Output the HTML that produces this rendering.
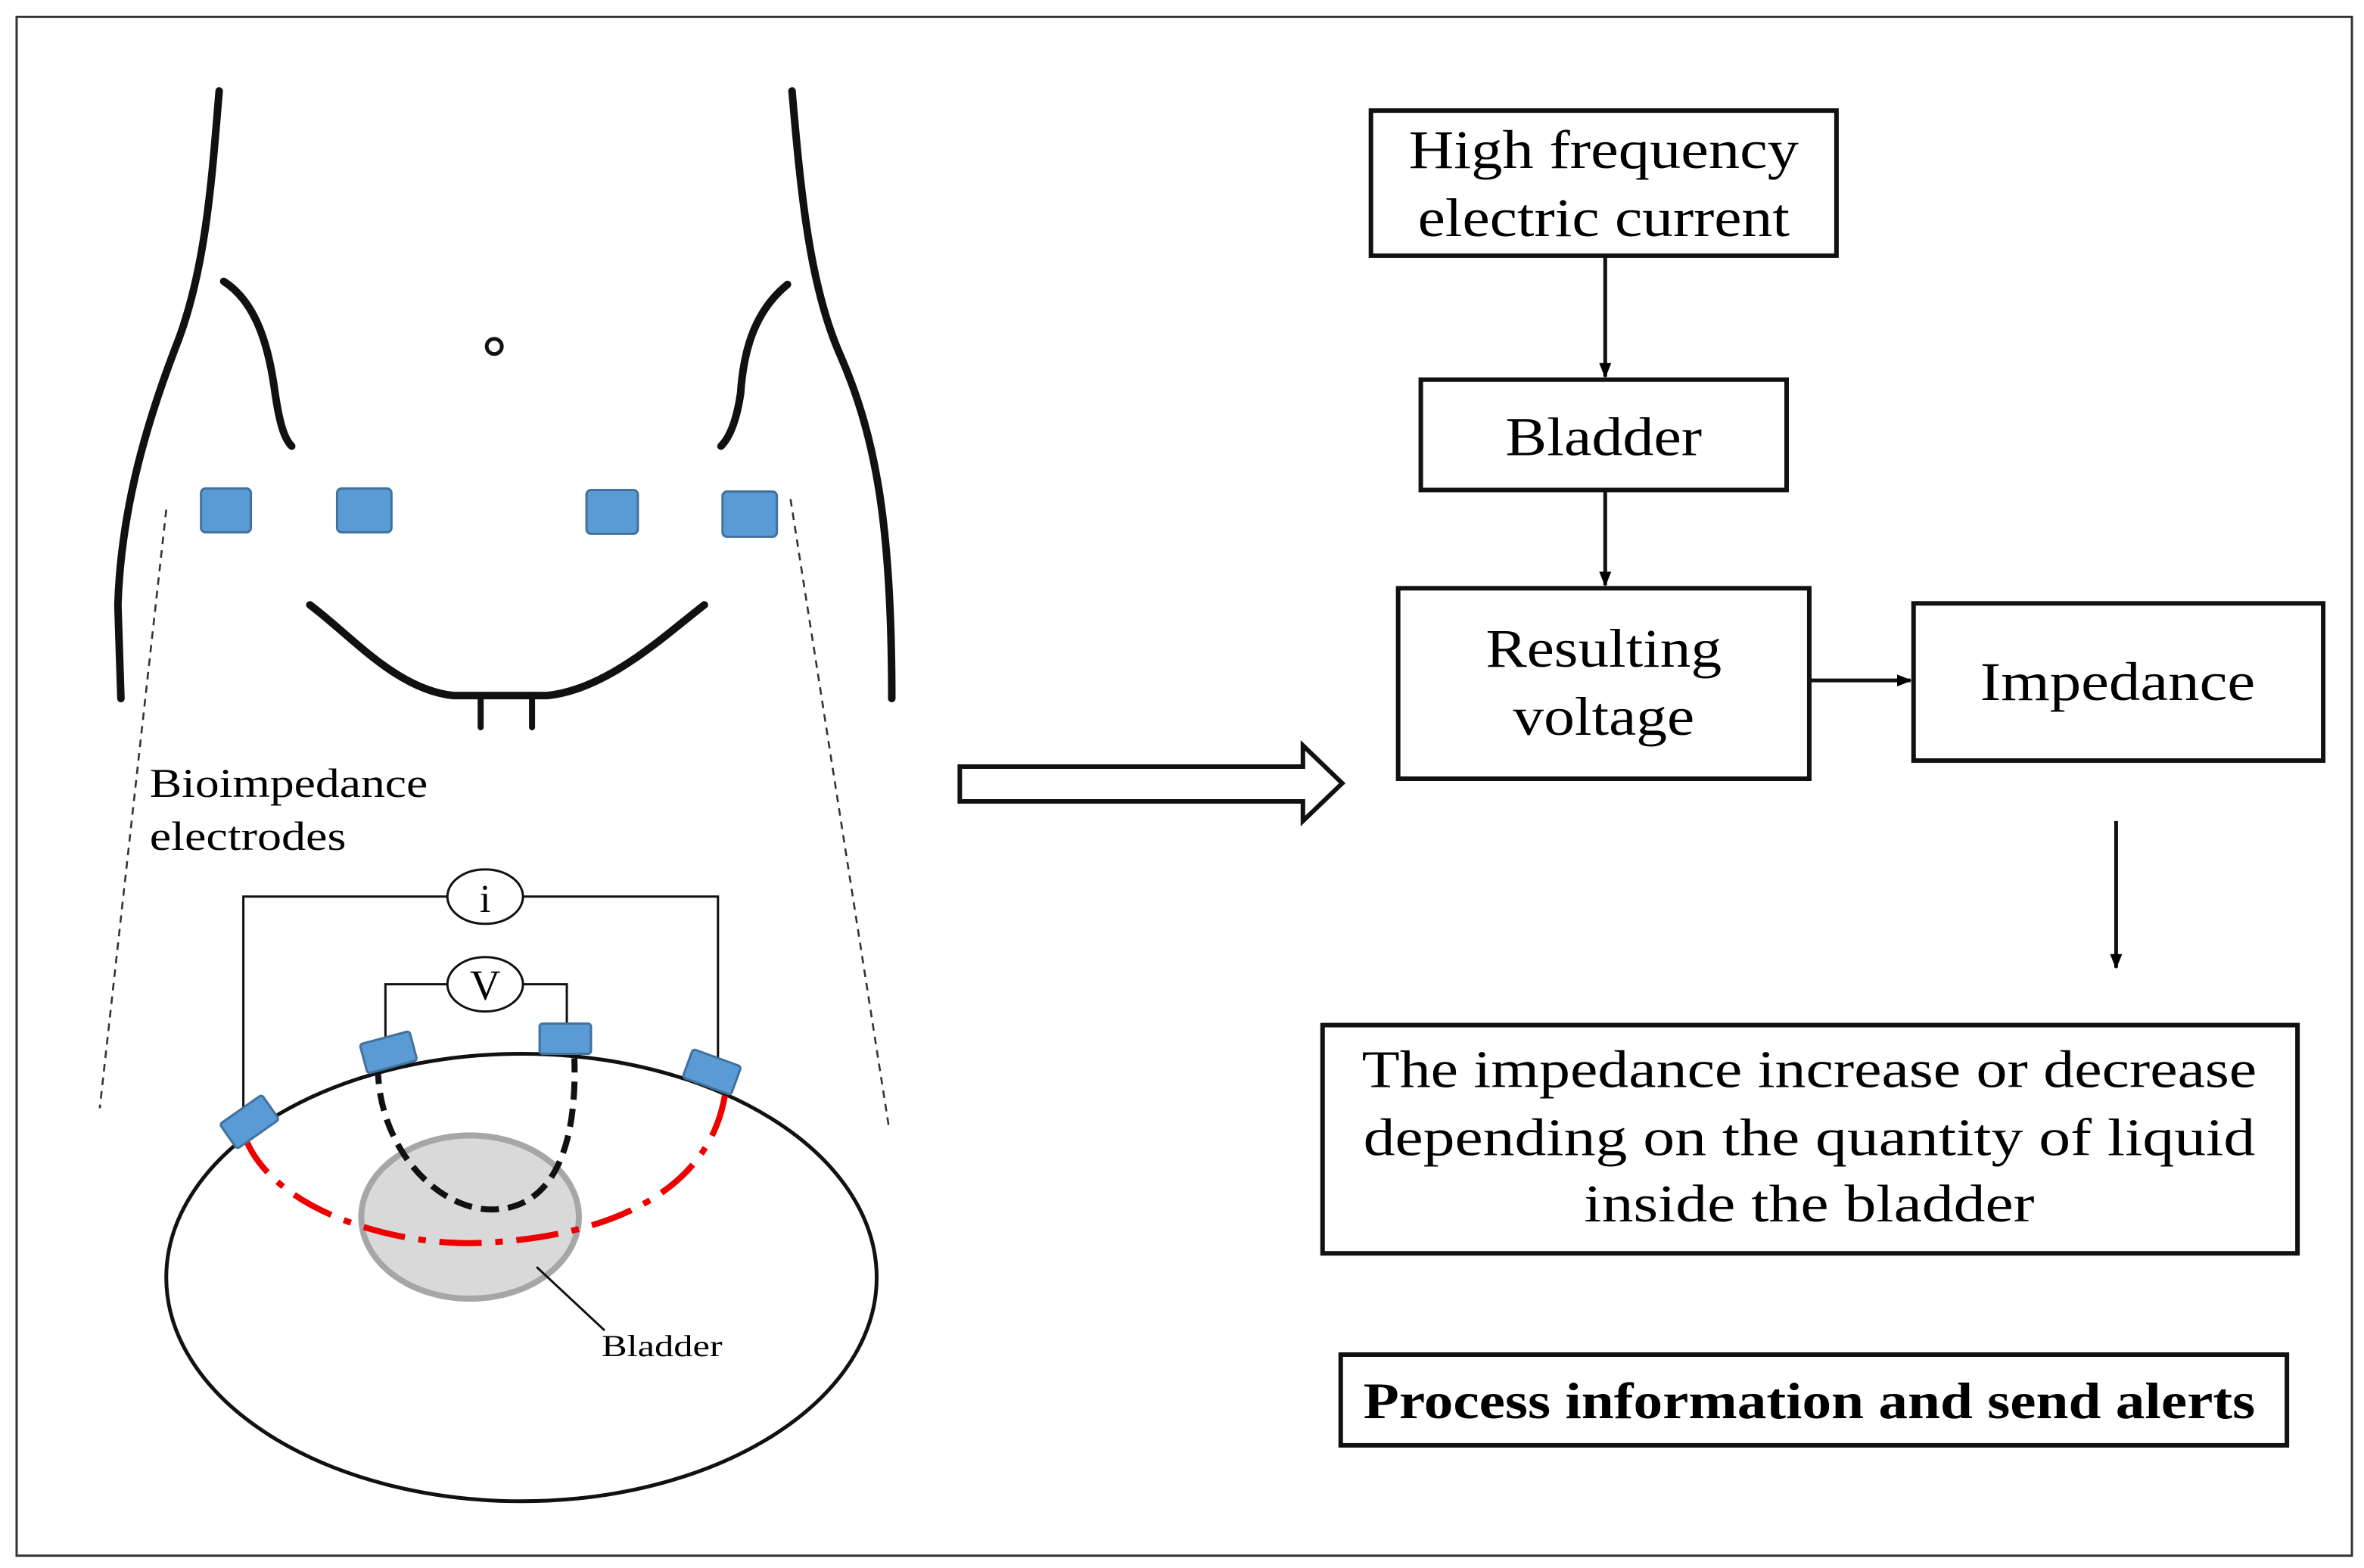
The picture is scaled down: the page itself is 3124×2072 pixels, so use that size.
<!DOCTYPE html>
<html><head><meta charset="utf-8"><style>html,body{margin:0;padding:0;background:#fff}svg{display:block}</style></head>
<body>
<svg width="3124" height="2072" viewBox="0 0 1564 1037" xmlns="http://www.w3.org/2000/svg" font-family="Liberation Serif, serif">
<defs><marker id="ah" markerWidth="10" markerHeight="10" refX="9" refY="5" orient="auto" markerUnits="userSpaceOnUse"><path d="M0,1 L10,5 L0,9 Z" fill="#000"/></marker></defs>
<rect width="1564" height="1037" fill="#fff"/>
<rect x="11" y="11" width="1545" height="1018" fill="none" stroke="#333" stroke-width="1.5"/>
<g fill="none" stroke="#111" stroke-width="5" stroke-linecap="round">
<path d="M145,60 C140,120 136,180 116,230 C95,285 80,340 78,400 L80,462"/>
<path d="M524,60 C530,130 536,190 556,235 C580,290 590,350 590,462"/>
<path d="M148,186 C170,200 178,230 182,260 C185,280 188,290 193,295"/>
<path d="M521,188 C500,205 492,230 490,260 C487,280 482,290 477,295"/>
<path d="M205,400 C232,420 262,456 300,460 L362,460 C402,456 440,420 466,400"/>
<path d="M318,461 L318,481 M352,461 L352,481" stroke-width="4"/>
</g>
<circle cx="327" cy="229" r="5" fill="none" stroke="#111" stroke-width="2.5"/>
<g fill="#5b9bd5" stroke="#41719c" stroke-width="1.5">
<rect x="133" y="323" width="33" height="29" rx="3"/>
<rect x="223" y="323" width="36" height="29" rx="3"/>
<rect x="388" y="324" width="34" height="29" rx="3"/>
<rect x="478" y="325" width="36" height="30" rx="3"/>
</g>
<g stroke="#333" stroke-width="1.3" stroke-dasharray="5,4">
<line x1="110" y1="337" x2="66" y2="733"/>
<line x1="523" y1="330" x2="588" y2="745"/>
</g>
<text x="99" y="527" font-size="27" textLength="184" lengthAdjust="spacingAndGlyphs">Bioimpedance</text>
<text x="99" y="562" font-size="27" textLength="130" lengthAdjust="spacingAndGlyphs">electrodes</text>
<ellipse cx="345" cy="845" rx="235" ry="148" fill="#fff" stroke="#111" stroke-width="2.5"/>
<ellipse cx="311" cy="805" rx="72" ry="54" fill="#d9d9d9" stroke="#a6a6a6" stroke-width="4"/>
<g fill="none" stroke="#111" stroke-width="1.5">
<path d="M161,738 L161,593 L475,593 L475,705"/>
<path d="M255,692 L255,651 L375,651 L375,682"/>
<line x1="355" y1="838" x2="400" y2="880"/>
</g>
<ellipse cx="321" cy="593" rx="25" ry="18" fill="#fff" stroke="#111" stroke-width="1.5"/>
<ellipse cx="321" cy="651" rx="25" ry="18" fill="#fff" stroke="#111" stroke-width="1.5"/>
<text x="321" y="603" font-size="26" text-anchor="middle">i</text>
<text x="321" y="661" font-size="28" text-anchor="middle">V</text>
<path d="M162,752 C180,800 260,825 320,822 C400,818 470,790 480,722" fill="none" stroke="#e00" stroke-width="4" stroke-dasharray="28,9,5,9"/>
<path d="M250,705 C250,760 290,800 325,800 C365,800 382,760 380,700" fill="none" stroke="#111" stroke-width="4" stroke-dasharray="12,6"/>
<g fill="#5b9bd5" stroke="#41719c" stroke-width="1.5">
<rect x="148" y="732" width="34" height="20" rx="2" transform="rotate(-35 165 742)"/>
<rect x="240" y="686" width="34" height="20" rx="2" transform="rotate(-15 257 696)"/>
<rect x="357" y="677" width="34" height="20" rx="2"/>
<rect x="454" y="699" width="34" height="20" rx="2" transform="rotate(20 471 709)"/>
</g>
<text x="398" y="897" font-size="20" textLength="80" lengthAdjust="spacingAndGlyphs">Bladder</text>
<path d="M635,507 L862,507 L862,493 L888,518 L862,543 L862,530 L635,530 Z" fill="#fff" stroke="#111" stroke-width="3"/>
<g fill="none" stroke="#111" stroke-width="3">
<rect x="907" y="73" width="308" height="96"/>
<rect x="940" y="251" width="242" height="73"/>
<rect x="925" y="389" width="272" height="126"/>
<rect x="1266" y="399" width="271" height="104"/>
<rect x="875" y="678" width="645" height="151"/>
<rect x="887" y="896" width="626" height="60"/>
</g>
<g stroke="#111" stroke-width="2.5" marker-end="url(#ah)">
<line x1="1062" y1="170" x2="1062" y2="249"/>
<line x1="1062" y1="325" x2="1062" y2="387"/>
<line x1="1198" y1="450" x2="1264" y2="450"/>
<line x1="1400" y1="543" x2="1400" y2="640"/>
</g>
<g font-size="36" text-anchor="middle">
<text x="1061" y="111" textLength="258" lengthAdjust="spacingAndGlyphs">High frequency</text>
<text x="1061" y="156" textLength="246" lengthAdjust="spacingAndGlyphs">electric current</text>
<text x="1061" y="301" textLength="130" lengthAdjust="spacingAndGlyphs">Bladder</text>
<text x="1061" y="441" textLength="156" lengthAdjust="spacingAndGlyphs">Resulting</text>
<text x="1061" y="486" textLength="120" lengthAdjust="spacingAndGlyphs">voltage</text>
<text x="1401" y="463" textLength="182" lengthAdjust="spacingAndGlyphs">Impedance</text>
<text x="1197" y="719" font-size="35" textLength="592" lengthAdjust="spacingAndGlyphs">The impedance increase or decrease</text>
<text x="1197" y="764" font-size="35" textLength="590" lengthAdjust="spacingAndGlyphs">depending on the quantity of liquid</text>
<text x="1197" y="808" font-size="35" textLength="298" lengthAdjust="spacingAndGlyphs">inside the bladder</text>
<text x="1197" y="938" font-size="34" font-weight="bold" textLength="590" lengthAdjust="spacingAndGlyphs">Process information and send alerts</text>
</g>
</svg>
</body></html>
